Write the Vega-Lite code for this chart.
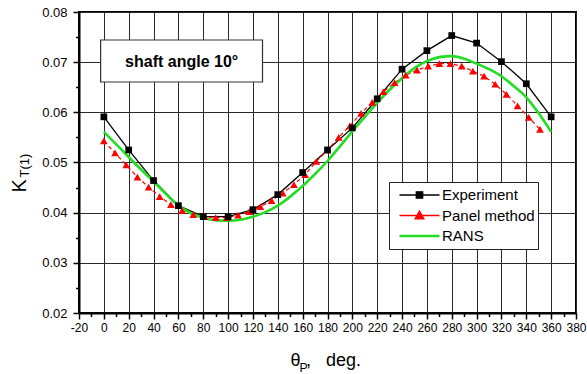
{
  "$schema": "https://vega.github.io/schema/vega-lite/v6.json",
  "width": 497,
  "height": 301,
  "autosize": {"type": "none"},
  "padding": {"left": 79, "top": 12, "right": 11, "bottom": 61},
  "background": "white",
  "config": {
    "view": {"stroke": "#000", "strokeWidth": 2},
    "font": "Liberation Sans"
  },
  "data": {
    "values": [
      {"series": "Experiment", "angle": 0, "kt": 0.0591},
      {"series": "Experiment", "angle": 20, "kt": 0.0525},
      {"series": "Experiment", "angle": 40, "kt": 0.0464},
      {"series": "Experiment", "angle": 60, "kt": 0.0414},
      {"series": "Experiment", "angle": 80, "kt": 0.0392},
      {"series": "Experiment", "angle": 100, "kt": 0.0392},
      {"series": "Experiment", "angle": 120, "kt": 0.0406},
      {"series": "Experiment", "angle": 140, "kt": 0.0436},
      {"series": "Experiment", "angle": 160, "kt": 0.0480},
      {"series": "Experiment", "angle": 180, "kt": 0.0525},
      {"series": "Experiment", "angle": 200, "kt": 0.0569},
      {"series": "Experiment", "angle": 220, "kt": 0.0627},
      {"series": "Experiment", "angle": 240, "kt": 0.0686},
      {"series": "Experiment", "angle": 260, "kt": 0.0723},
      {"series": "Experiment", "angle": 280, "kt": 0.0753},
      {"series": "Experiment", "angle": 300, "kt": 0.0738},
      {"series": "Experiment", "angle": 320, "kt": 0.0701},
      {"series": "Experiment", "angle": 340, "kt": 0.0657},
      {"series": "Experiment", "angle": 360, "kt": 0.0591},
      {"series": "Panel method", "angle": 0, "kt": 0.0543},
      {"series": "Panel method", "angle": 9, "kt": 0.0519},
      {"series": "Panel method", "angle": 18, "kt": 0.0495},
      {"series": "Panel method", "angle": 27, "kt": 0.0471},
      {"series": "Panel method", "angle": 36, "kt": 0.0451},
      {"series": "Panel method", "angle": 45, "kt": 0.0432},
      {"series": "Panel method", "angle": 54, "kt": 0.0416},
      {"series": "Panel method", "angle": 63, "kt": 0.0404},
      {"series": "Panel method", "angle": 72, "kt": 0.0396},
      {"series": "Panel method", "angle": 81, "kt": 0.0392},
      {"series": "Panel method", "angle": 90, "kt": 0.0390},
      {"series": "Panel method", "angle": 99, "kt": 0.0390},
      {"series": "Panel method", "angle": 108, "kt": 0.0395},
      {"series": "Panel method", "angle": 117, "kt": 0.0402},
      {"series": "Panel method", "angle": 126, "kt": 0.0412},
      {"series": "Panel method", "angle": 135, "kt": 0.0424},
      {"series": "Panel method", "angle": 144, "kt": 0.0439},
      {"series": "Panel method", "angle": 153, "kt": 0.0456},
      {"series": "Panel method", "angle": 162, "kt": 0.0476},
      {"series": "Panel method", "angle": 171, "kt": 0.0502},
      {"series": "Panel method", "angle": 180, "kt": 0.0525},
      {"series": "Panel method", "angle": 189, "kt": 0.0550},
      {"series": "Panel method", "angle": 198, "kt": 0.0573},
      {"series": "Panel method", "angle": 207, "kt": 0.0598},
      {"series": "Panel method", "angle": 216, "kt": 0.0620},
      {"series": "Panel method", "angle": 225, "kt": 0.0641},
      {"series": "Panel method", "angle": 234, "kt": 0.0659},
      {"series": "Panel method", "angle": 243, "kt": 0.0674},
      {"series": "Panel method", "angle": 252, "kt": 0.0684},
      {"series": "Panel method", "angle": 261, "kt": 0.0692},
      {"series": "Panel method", "angle": 270, "kt": 0.0697},
      {"series": "Panel method", "angle": 279, "kt": 0.0697},
      {"series": "Panel method", "angle": 288, "kt": 0.0692},
      {"series": "Panel method", "angle": 297, "kt": 0.0682},
      {"series": "Panel method", "angle": 306, "kt": 0.0672},
      {"series": "Panel method", "angle": 315, "kt": 0.0656},
      {"series": "Panel method", "angle": 324, "kt": 0.0636},
      {"series": "Panel method", "angle": 333, "kt": 0.0613},
      {"series": "Panel method", "angle": 342, "kt": 0.0590},
      {"series": "Panel method", "angle": 351, "kt": 0.0566},
      {"series": "RANS", "angle": 0, "kt": 0.0561},
      {"series": "RANS", "angle": 10, "kt": 0.0536},
      {"series": "RANS", "angle": 20, "kt": 0.0511},
      {"series": "RANS", "angle": 30, "kt": 0.0486},
      {"series": "RANS", "angle": 40, "kt": 0.0462},
      {"series": "RANS", "angle": 50, "kt": 0.0437},
      {"series": "RANS", "angle": 60, "kt": 0.0414},
      {"series": "RANS", "angle": 70, "kt": 0.0399},
      {"series": "RANS", "angle": 80, "kt": 0.0390},
      {"series": "RANS", "angle": 90, "kt": 0.0385},
      {"series": "RANS", "angle": 100, "kt": 0.0384},
      {"series": "RANS", "angle": 110, "kt": 0.0386},
      {"series": "RANS", "angle": 120, "kt": 0.0392},
      {"series": "RANS", "angle": 130, "kt": 0.0401},
      {"series": "RANS", "angle": 140, "kt": 0.0414},
      {"series": "RANS", "angle": 150, "kt": 0.0432},
      {"series": "RANS", "angle": 160, "kt": 0.0453},
      {"series": "RANS", "angle": 170, "kt": 0.0477},
      {"series": "RANS", "angle": 180, "kt": 0.0503},
      {"series": "RANS", "angle": 190, "kt": 0.0532},
      {"series": "RANS", "angle": 200, "kt": 0.0562},
      {"series": "RANS", "angle": 210, "kt": 0.0591},
      {"series": "RANS", "angle": 220, "kt": 0.0619},
      {"series": "RANS", "angle": 230, "kt": 0.0645},
      {"series": "RANS", "angle": 240, "kt": 0.0668},
      {"series": "RANS", "angle": 250, "kt": 0.0688},
      {"series": "RANS", "angle": 260, "kt": 0.0702},
      {"series": "RANS", "angle": 270, "kt": 0.0710},
      {"series": "RANS", "angle": 280, "kt": 0.0712},
      {"series": "RANS", "angle": 290, "kt": 0.0707},
      {"series": "RANS", "angle": 300, "kt": 0.0697},
      {"series": "RANS", "angle": 310, "kt": 0.0686},
      {"series": "RANS", "angle": 320, "kt": 0.0672},
      {"series": "RANS", "angle": 330, "kt": 0.0652},
      {"series": "RANS", "angle": 340, "kt": 0.0630},
      {"series": "RANS", "angle": 350, "kt": 0.0598},
      {"series": "RANS", "angle": 360, "kt": 0.0561}
    ]
  },
  "resolve": {"axis": {"x": "independent", "y": "independent"}},
  "layer": [
    {
      "data": {"values": [{"label": "shaft angle 10°"}]},
      "mark": {"type": "rect", "fill": "#ffffff", "stroke": "#333333", "strokeWidth": 1.2},
      "encoding": {
        "x": {"datum": -2.6, "type": "quantitative", "scale": {"domain": [-20, 380], "nice": false, "zero": false}, "axis": null},
        "x2": {"datum": 127.7},
        "y": {"datum": 0.07442, "type": "quantitative", "scale": {"domain": [0.02, 0.08], "nice": false, "zero": false}, "axis": null},
        "y2": {"datum": 0.06605}
      }
    },
    {
      "data": {"values": [{"label": "shaft angle 10°"}]},
      "mark": {"type": "text", "font": "Liberation Sans", "fontSize": 16, "fontWeight": "bold", "fill": "#000000", "align": "center", "baseline": "alphabetic"},
      "encoding": {
        "text": {"field": "label"},
        "x": {"datum": 62.6, "type": "quantitative", "axis": null},
        "y": {"datum": 0.0691, "type": "quantitative", "axis": null}
      }
    },
    {
      "mark": {"type": "line", "strokeWidth": 1.3},
      "transform": [{"filter": "datum.series === 'Experiment'"}],
      "encoding": {
        "x": {
          "field": "angle", "type": "quantitative",
          "scale": {"domain": [-20, 380], "nice": false, "zero": false},
          "axis": {
            "orient": "bottom",
            "values": [-20, 0, 20, 40, 60, 80, 100, 120, 140, 160, 180, 200, 220, 240, 260, 280, 300, 320, 340, 360, 380],
            "grid": true, "gridColor": "#2a2a2a", "gridWidth": 1, "gridOpacity": 1,
            "domain": true, "domainColor": "#000", "domainWidth": 2,
            "ticks": true, "tickSize": 6, "tickWidth": 1.5, "tickColor": "#000",
            "labelFont": "Liberation Sans", "labelFontSize": 12, "labelColor": "#000",
            "labelPadding": 3, "labelOverlap": false, "labelFlush": false,
            "labelExpr": "'' + datum.value",
            "title": "θ", "titleFont": "Liberation Sans", "titleFontSize": 18,
            "titleFontWeight": "normal", "titleColor": "#000",
            "titleAlign": "left", "titleBaseline": "alphabetic",
            "titleX": 211, "titleY": 52
          }
        },
        "y": {
          "field": "kt", "type": "quantitative",
          "scale": {"domain": [0.02, 0.08], "nice": false, "zero": false},
          "axis": {
            "orient": "left",
            "values": [0.02, 0.03, 0.04, 0.05, 0.06, 0.07, 0.08],
            "format": ".2f",
            "grid": true, "gridColor": "#2a2a2a", "gridWidth": 1, "gridOpacity": 1,
            "domain": true, "domainColor": "#000", "domainWidth": 2,
            "ticks": true, "tickSize": 6, "tickWidth": 1.5, "tickColor": "#000",
            "labelFont": "Liberation Sans", "labelFontSize": 13, "labelColor": "#000",
            "labelPadding": 6, "labelOverlap": false, "labelFlush": false,
            "title": "K", "titleFont": "Liberation Sans", "titleFontSize": 20,
            "titleFontWeight": "normal", "titleColor": "#000", "titleAngle": -90,
            "titleAlign": "left", "titleBaseline": "alphabetic",
            "titleX": -54, "titleY": 180
          }
        },
        "color": {
          "field": "series", "type": "nominal",
          "scale": {"domain": ["Experiment", "Panel method", "RANS"], "range": ["#000000", "#ff0000", "#22dd22"]},
          "legend": {
            "orient": "none", "legendX": 310, "legendY": 170,
            "title": null, "direction": "vertical",
            "fillColor": "#ffffff", "strokeColor": "#222222",
            "padding": 3, "rowPadding": 0.5,
            "labelFont": "Liberation Sans", "labelFontSize": 15, "labelColor": "#000",
            "labelOffset": 15, "symbolSize": 1600, "symbolOffset": 20, "clipHeight": 20,
            "labelExpr": "datum.label === 'Panel method' ? datum.label + '\u00a0\u00a0' : datum.label",
            "encode": {
              "symbols": {
                "update": {
                  "shape": {"signal": "datum.value === 'Experiment' ? 'M-1,0H1M-0.16,-0.16H0.16V0.16H-0.16Z' : datum.value === 'Panel method' ? 'M-1,0H1M0,-0.22L0.22,0.17H-0.22Z' : 'M-1,0H1'"},
                  "fill": {"signal": "datum.value === 'Experiment' ? '#000000' : datum.value === 'Panel method' ? '#ff0000' : 'transparent'"},
                  "stroke": {"signal": "datum.value === 'Experiment' ? '#000000' : datum.value === 'Panel method' ? '#ff0000' : '#22dd22'"},
                  "strokeWidth": {"signal": "datum.value === 'RANS' ? 2.6 : 1.3"},
                  "opacity": {"value": 1},
                  "fillOpacity": {"value": 1},
                  "strokeOpacity": {"value": 1}
                }
              }
            }
          }
        }
      }
    },
    {
      "mark": {"type": "line", "strokeWidth": 1.2, "strokeDash": [4, 3]},
      "transform": [{"filter": "datum.series === 'Panel method'"}],
      "encoding": {
        "x": {
          "field": "angle", "type": "quantitative",
          "scale": {"domain": [-20, 380], "nice": false, "zero": false},
          "axis": {
            "orient": "bottom",
            "values": [-10, 10, 30, 50, 70, 90, 110, 130, 150, 170, 190, 210, 230, 250, 270, 290, 310, 330, 350, 370],
            "grid": false, "domain": false, "labels": false,
            "ticks": true, "tickSize": 3.5, "tickWidth": 1.5, "tickColor": "#000",
            "title": "P", "titleFont": "Liberation Sans", "titleFontSize": 12,
            "titleFontWeight": "normal", "titleColor": "#000",
            "titleAlign": "left", "titleBaseline": "alphabetic",
            "titleX": 220, "titleY": 58.5
          }
        },
        "y": {
          "field": "kt", "type": "quantitative",
          "scale": {"domain": [0.02, 0.08], "nice": false, "zero": false},
          "axis": {
            "orient": "left",
            "values": [0.025, 0.035, 0.045, 0.055, 0.065, 0.075],
            "grid": false, "domain": false, "labels": false,
            "ticks": true, "tickSize": 3.5, "tickWidth": 1.5, "tickColor": "#000",
            "title": "T(1)", "titleFont": "Liberation Sans", "titleFontSize": 13,
            "titleFontWeight": "normal", "titleColor": "#000", "titleAngle": -90,
            "titleAlign": "left", "titleBaseline": "alphabetic",
            "titleX": -50.5, "titleY": 165
          }
        },
        "color": {"field": "series", "type": "nominal", "scale": {"domain": ["Experiment", "Panel method", "RANS"], "range": ["#000000", "#ff0000", "#22dd22"]}}
      }
    },
    {
      "mark": {"type": "line", "strokeWidth": 2.6, "interpolate": "monotone"},
      "transform": [{"filter": "datum.series === 'RANS'"}],
      "encoding": {
        "x": {
          "field": "angle", "type": "quantitative",
          "scale": {"domain": [-20, 380], "nice": false, "zero": false},
          "axis": {
            "orient": "bottom",
            "grid": false, "domain": false, "labels": false, "ticks": false,
            "title": ",\u00a0\u00a0\u00a0deg.", "titleFont": "Liberation Sans", "titleFontSize": 18,
            "titleFontWeight": "normal", "titleColor": "#000",
            "titleAlign": "left", "titleBaseline": "alphabetic",
            "titleX": 226.5, "titleY": 52
          }
        },
        "y": {
          "field": "kt", "type": "quantitative",
          "scale": {"domain": [0.02, 0.08], "nice": false, "zero": false},
          "axis": null
        },
        "color": {"field": "series", "type": "nominal", "scale": {"domain": ["Experiment", "Panel method", "RANS"], "range": ["#000000", "#ff0000", "#22dd22"]}}
      }
    },
    {
      "mark": {"type": "point", "shape": "triangle-up", "filled": true, "size": 60, "opacity": 1},
      "transform": [{"filter": "datum.series === 'Panel method'"}],
      "encoding": {
        "x": {"field": "angle", "type": "quantitative", "scale": {"domain": [-20, 380], "nice": false, "zero": false}, "axis": null},
        "y": {"field": "kt", "type": "quantitative", "scale": {"domain": [0.02, 0.08], "nice": false, "zero": false}, "axis": null},
        "color": {"field": "series", "type": "nominal", "scale": {"domain": ["Experiment", "Panel method", "RANS"], "range": ["#000000", "#ff0000", "#22dd22"]}}
      }
    },
    {
      "mark": {"type": "square", "size": 45, "opacity": 1},
      "transform": [{"filter": "datum.series === 'Experiment'"}],
      "encoding": {
        "x": {"field": "angle", "type": "quantitative", "scale": {"domain": [-20, 380], "nice": false, "zero": false}, "axis": null},
        "y": {"field": "kt", "type": "quantitative", "scale": {"domain": [0.02, 0.08], "nice": false, "zero": false}, "axis": null},
        "color": {"field": "series", "type": "nominal", "scale": {"domain": ["Experiment", "Panel method", "RANS"], "range": ["#000000", "#ff0000", "#22dd22"]}}
      }
    }
  ]
}
